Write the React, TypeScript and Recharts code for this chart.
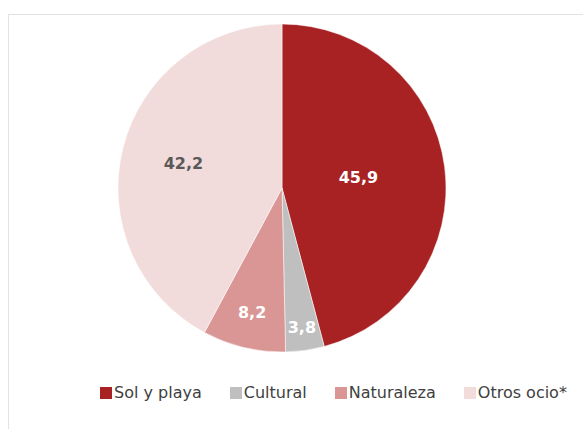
import React from "react";
import { PieChart, Pie, Cell } from "recharts";

const categories = ["Sol y playa", "Cultural", "Naturaleza", "Otros ocio*"];
const values = [45.9, 3.8, 8.2, 42.2];
const labels = ["45,9", "3,8", "8,2", "42,2"];

const colors = ["#A82224", "#BFBFBF", "#DA9694", "#F2DCDB"];
const labelColors = ["#FFFFFF", "#FFFFFF", "#FFFFFF", "#595959"];
const labelRadius = [0.47, 0.86, 0.78, 0.62];

const data = categories.map((name, i) => ({ name, value: values[i] }));

const RAD = Math.PI / 180;

const renderLabel = (props: any) => {
  const { cx, cy, midAngle, outerRadius, index } = props;
  const r = outerRadius * labelRadius[index];
  const x = cx + r * Math.cos(-midAngle * RAD);
  const y = cy + r * Math.sin(-midAngle * RAD);
  return (
    <text
      x={x}
      y={y}
      fill={labelColors[index]}
      textAnchor="middle"
      dominantBaseline="central"
      fontFamily="'DejaVu Sans', Verdana, sans-serif"
      fontWeight="bold"
      fontSize={16}
    >
      {labels[index]}
    </text>
  );
};

export default function App() {
  return (
    <div
      style={{
        position: "absolute",
        left: 0,
        top: 0,
        width: 583,
        height: 429,
        background: "#fff",
        overflow: "hidden",
      }}
    >
      <div
        style={{
          position: "absolute",
          left: 8,
          top: 14,
          width: 600,
          height: 500,
          borderLeft: "1px solid #E3E3E3",
          borderTop: "1px solid #E3E3E3",
        }}
      />
      <div style={{ position: "absolute", left: 0, top: 0 }}>
        <PieChart width={583} height={429} margin={{ top: 0, right: 0, bottom: 0, left: 0 }}>
          <Pie
            data={data}
            dataKey="value"
            nameKey="name"
            cx={282}
            cy={188}
            outerRadius={164}
            startAngle={90}
            endAngle={-270}
            stroke="#ffffff"
            strokeWidth={0.5}
            label={renderLabel}
            labelLine={false}
            isAnimationActive={false}
          >
            {data.map((d, i) => (
              <Cell key={d.name} fill={colors[i]} />
            ))}
          </Pie>
        </PieChart>
      </div>
      <div
        style={{
          position: "absolute",
          left: 100,
          top: 383,
          display: "flex",
          alignItems: "center",
          fontFamily: "'DejaVu Sans', Verdana, sans-serif",
          fontSize: 16,
          color: "#404040",
          whiteSpace: "nowrap",
        }}
      >
        {categories.map((c, i) => (
          <div
            key={c}
            style={{
              display: "flex",
              alignItems: "center",
              marginRight: i < categories.length - 1 ? 28 : 0,
            }}
          >
            <span
              style={{
                display: "inline-block",
                width: 12,
                height: 12,
                background: colors[i],
                marginRight: 2,
              }}
            />
            <span>{c}</span>
          </div>
        ))}
      </div>
    </div>
  );
}
